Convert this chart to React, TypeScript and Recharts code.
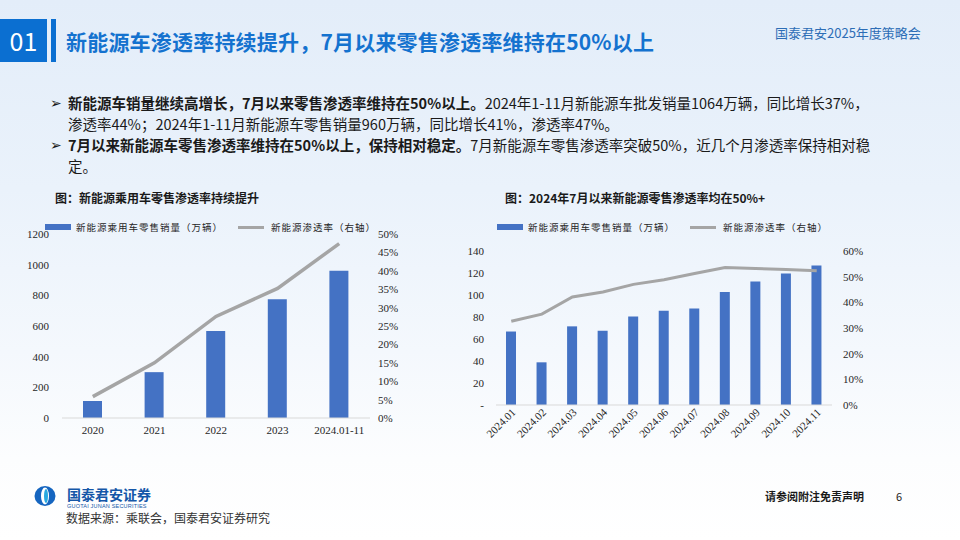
import React from 'react';
import { ComposedChart, Bar, Line, XAxis, YAxis } from 'recharts';

const annualCategories = ['2020', '2021', '2022', '2023', '2024.01-11'];
const annualSales = [111, 299, 567, 774, 960];
const annualPenetration = [5.8, 15.0, 27.6, 35.2, 47.4];
const annualLeftTicks = [0, 200, 400, 600, 800, 1000, 1200];
const annualRightTicks = [0, 5, 10, 15, 20, 25, 30, 35, 40, 45, 50];

const monthlyCategories = ['2024.01', '2024.02', '2024.03', '2024.04', '2024.05', '2024.06', '2024.07', '2024.08', '2024.09', '2024.10', '2024.11'];
const monthlySales = [66.8, 38.8, 71.5, 67.5, 80.4, 85.6, 87.8, 102.7, 112.3, 119.6, 126.8];
const monthlyPenetration = [32.6, 35.4, 42.1, 44.0, 47.0, 48.8, 51.2, 53.6, 53.2, 52.8, 52.3];
const monthlyLeftTicks = [0, 20, 40, 60, 80, 100, 120, 140];
const monthlyRightTicks = [0, 10, 20, 30, 40, 50, 60];

const legendBar = '新能源乘用车零售销量（万辆）';
const legendLine = '新能源渗透率（右轴）';

const annualData = annualCategories.map((c, i) => ({ cat: c, sales: annualSales[i], pen: annualPenetration[i] }));
const monthlyData = monthlyCategories.map((c, i) => ({ cat: c, sales: monthlySales[i], pen: monthlyPenetration[i] }));

const BLUE = '#4472C4';
const GRAY = '#A5A5A5';
const SERIF = '"Liberation Serif", "Times New Roman", serif';
const CJK = '"Noto Sans CJK SC", "Noto Sans", sans-serif';
const tickStyle = { fontSize: 11, fontFamily: SERIF, fill: '#262626' };

const RotatedTick = (props: any) => {
  const { x, y, payload } = props;
  const ax = x + 5;
  const ay = y + 8;
  return (
    <text x={ax} y={ay} transform={`rotate(-45 ${ax} ${ay})`} textAnchor="end" fontSize={11} fontFamily={SERIF} fill="#262626">
      {payload.value}
    </text>
  );
};

const abs = (left: number, top: number, extra: any = {}) => ({ position: 'absolute' as const, left, top, ...extra });

const Legend = ({ left, top }: { left: number; top: number }) => (
  <div style={abs(left, top, { width: 340, height: 14 })}>
    <div style={abs(0, 4, { width: 26, height: 6, background: BLUE })} />
    <div style={abs(31, 0, { fontFamily: CJK, fontSize: 9.5, letterSpacing: 1, color: '#262626', lineHeight: '14px', whiteSpace: 'nowrap' })}>{legendBar}</div>
    <div style={abs(193, 6, { width: 26, height: 3, background: GRAY })} />
    <div style={abs(226, 0, { fontFamily: CJK, fontSize: 9.5, letterSpacing: 1, color: '#262626', lineHeight: '14px', whiteSpace: 'nowrap' })}>{legendLine}</div>
  </div>
);

const bulletStyle = { fontFamily: CJK, fontSize: 14.5, color: '#1a1a1a', lineHeight: '21px', whiteSpace: 'nowrap' as const };

export default function App() {
  return (
    <div style={{ position: 'absolute', left: 0, top: 0, width: 960, height: 540, overflow: 'hidden', background: 'linear-gradient(180deg, #e3edf9 0%, #eaf2fb 35%, #f4f8fd 65%, #fcfdfe 85%, #ffffff 100%)' }}>
      {/* header */}
      <div style={abs(0, 19, { width: 47, height: 43, background: '#0b6fd1', color: '#fff', fontFamily: CJK, fontSize: 25, lineHeight: '43px', textAlign: 'center' })}>01</div>
      <div style={abs(51, 19, { width: 5, height: 43, background: '#0b6fd1' })} />
      <div style={abs(66, 26, { fontFamily: CJK, fontSize: 21, fontWeight: 700, color: '#1472cf', lineHeight: '30px', whiteSpace: 'nowrap', letterSpacing: 0.2 })}>
        新能源车渗透率持续提升，7月以来零售渗透率维持在50%以上
      </div>
      <div style={abs(775, 24, { fontFamily: CJK, fontSize: 13, color: '#2d6db6', lineHeight: '18px', whiteSpace: 'nowrap' })}>国泰君安2025年度策略会</div>

      {/* bullets */}
      <div style={abs(50, 92, { ...bulletStyle, fontSize: 14 })}>➢</div>
      <div style={abs(68, 92, bulletStyle)}>
        <b>新能源车销量继续高增长，7月以来零售渗透率维持在50%以上。</b>2024年1-11月新能源车批发销量1064万辆，同比增长37%，
      </div>
      <div style={abs(68, 113, bulletStyle)}>渗透率44%；2024年1-11月新能源车零售销量960万辆，同比增长41%，渗透率47%。</div>
      <div style={abs(50, 134, { ...bulletStyle, fontSize: 14 })}>➢</div>
      <div style={abs(68, 134, bulletStyle)}>
        <b>7月以来新能源车零售渗透率维持在50%以上，保持相对稳定。</b>7月新能源车零售渗透率突破50%，近几个月渗透率保持相对稳
      </div>
      <div style={abs(68, 155, bulletStyle)}>定。</div>

      {/* chart titles */}
      <div style={abs(55, 189, { fontFamily: CJK, fontSize: 12, fontWeight: 600, color: '#1a1a1a', lineHeight: '18px', whiteSpace: 'nowrap' })}>图：新能源乘用车零售渗透率持续提升</div>
      <div style={abs(505, 189, { fontFamily: CJK, fontSize: 12, fontWeight: 600, color: '#1a1a1a', lineHeight: '18px', whiteSpace: 'nowrap' })}>图：2024年7月以来新能源零售渗透率均在50%+</div>

      <Legend left={45} top={220} />
      <Legend left={497} top={220} />

      {/* left chart */}
      <div style={abs(10, 220)}>
        <ComposedChart width={410} height={230} data={annualData} margin={{ top: 14, right: 0, bottom: 0, left: 0 }} barCategoryGap={0}>
          <XAxis dataKey="cat" height={32} tickLine={false} tickSize={0} tickMargin={8} axisLine={{ stroke: '#d9d9d9' }} tick={tickStyle} interval={0} />
          <YAxis yAxisId="left" width={52} domain={[0, 1200]} ticks={annualLeftTicks} axisLine={false} tickLine={false} tickSize={0} tickMargin={13} tick={tickStyle} interval={0} />
          <YAxis yAxisId="right" orientation="right" width={50} domain={[0, 50]} ticks={annualRightTicks} axisLine={false} tickLine={false} tickSize={0} tickMargin={8} tick={tickStyle} interval={0} tickFormatter={(v: number) => `${v}%`} />
          <Bar yAxisId="left" dataKey="sales" fill={BLUE} barSize={19} isAnimationActive={false} />
          <Line yAxisId="right" dataKey="pen" stroke={GRAY} strokeWidth={3.5} dot={false} isAnimationActive={false} />
        </ComposedChart>
      </div>

      {/* right chart */}
      <div style={abs(440, 235)}>
        <ComposedChart width={440} height={220} data={monthlyData} margin={{ top: 16, right: 0, bottom: 0, left: 0 }}>
          <XAxis dataKey="cat" height={50} tickLine={false} tickSize={0} tickMargin={0} axisLine={{ stroke: '#d9d9d9' }} tick={<RotatedTick />} interval={0} />
          <YAxis yAxisId="left" width={56} domain={[0, 140]} ticks={monthlyLeftTicks} axisLine={false} tickLine={false} tickSize={0} tickMargin={12} tick={tickStyle} interval={0} tickFormatter={(v: number) => (v === 0 ? '-' : `${v}`)} />
          <YAxis yAxisId="right" orientation="right" width={48} domain={[0, 60]} ticks={monthlyRightTicks} axisLine={false} tickLine={false} tickSize={0} tickMargin={11} tick={tickStyle} interval={0} tickFormatter={(v: number) => `${v}%`} />
          <Bar yAxisId="left" dataKey="sales" fill={BLUE} barSize={10} isAnimationActive={false} />
          <Line yAxisId="right" dataKey="pen" stroke={GRAY} strokeWidth={3} dot={false} isAnimationActive={false} />
        </ComposedChart>
      </div>

      {/* footer */}
      <svg style={abs(34, 486)} width={22} height={20} viewBox="0 0 22 20">
        <ellipse cx={11} cy={10} rx={10.5} ry={10} fill="#1565c0" />
        <ellipse cx={11} cy={10} rx={4} ry={8.5} fill="#ffffff" />
        <ellipse cx={12} cy={10} rx={2} ry={7} fill="#29a9e0" />
      </svg>
      <div style={abs(67, 486, { fontFamily: CJK, fontSize: 14, fontWeight: 700, color: '#1557a8', lineHeight: '16px', whiteSpace: 'nowrap' })}>国泰君安证券</div>
      <div style={abs(67, 503, { fontFamily: '"Liberation Sans", sans-serif', fontSize: 5.5, color: '#1557a8', lineHeight: '6px', whiteSpace: 'nowrap', letterSpacing: 0.2 })}>GUOTAI JUNAN SECURITIES</div>
      <div style={abs(66, 510, { fontFamily: CJK, fontSize: 12, color: '#333', lineHeight: '16px', whiteSpace: 'nowrap' })}>数据来源：乘联会，国泰君安证券研究</div>
      <div style={abs(765, 488, { fontFamily: CJK, fontSize: 11, fontWeight: 600, color: '#1a1a1a', lineHeight: '16px', whiteSpace: 'nowrap' })}>请参阅附注免责声明</div>
      <div style={abs(896, 488, { fontFamily: CJK, fontSize: 11, color: '#1a1a1a', lineHeight: '16px' })}>6</div>
    </div>
  );
}
